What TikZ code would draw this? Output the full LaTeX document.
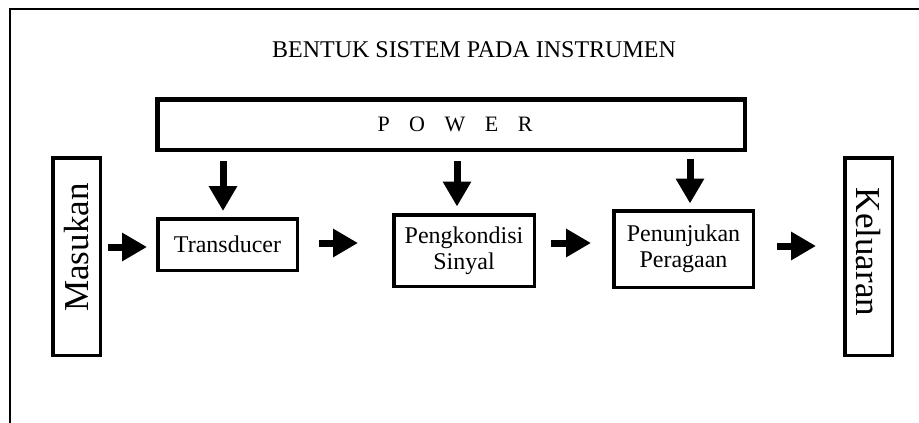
\documentclass[tikz,border=0pt]{standalone}
\usepackage{fontspec}
\setmainfont{Liberation Serif}
\usetikzlibrary{arrows.meta}
\tikzset{
  box/.style={draw, line width=3.5pt, inner sep=0pt, align=center,
    font=\fontsize{24}{26}\selectfont},
  sidebox/.style={draw, line width=3.5pt, inner sep=0pt,
    minimum width=47.5pt, minimum height=197.5pt},
  sidetext/.style={inner sep=0pt, font=\fontsize{35}{38}\selectfont},
  arr/.style={line width=7pt, -{Triangle[length=25pt,width=27pt]}},
}
\begin{document}
\begin{tikzpicture}[x=1pt,y=-1pt]
\useasboundingbox (0,0) rectangle (919,423);
\draw[line width=1.5pt] (10,423) -- (10,9) -- (919,9);
\node[inner sep=0pt, font=\fontsize{24}{26}\selectfont] (title) at (474,50) {BENTUK SISTEM PADA INSTRUMEN};
\node[draw, line width=4.5pt, inner sep=0pt, minimum width=587.5pt, minimum height=50.5pt] (pw) at (451,124.5) {};
\node[inner sep=0pt, font=\fontsize{22}{24}\selectfont] (pwt) at (455,124.5) {P\hspace{19.5pt}O\hspace{19.5pt}W\hspace{19.5pt}E\hspace{19.5pt}R};
\node[sidebox] (mas) at (76.5,256.5) {};
\node[sidetext, rotate=90] (mast) at (77,247.5) {Masukan};
\node[sidebox] (kel) at (868.5,256.5) {};
\node[sidetext, rotate=-90] (kelt) at (868,252) {Keluaran};
\node[box, minimum width=139.5pt, minimum height=51.5pt] (tr) at (227.5,244.5) {Transducer};
\node[box, minimum width=140.5pt, minimum height=71.5pt] (pk) at (464,250.5) {Pengkondisi\\Sinyal};
\node[box, minimum width=139.5pt, minimum height=76.5pt] (pn) at (683.5,249) {Penunjukan\\Peragaan};
% power arrows
\draw[arr, shorten <=9pt, shorten >=6pt] (pw.south -| 223,0) -- (tr.north -| 223,0);
\draw[arr, shorten <=9pt, shorten >=6.5pt] (pw.south -| 457,0) -- (pk.north -| 457,0);
\draw[arr, shorten <=7pt, shorten >=5.5pt] (pw.south -| 690,0) -- (pn.north -| 690,0);
% signal flow
\draw[arr, shorten <=6pt, shorten >=9pt] (mas.east |- 0,247) -- (tr.west |- 0,247);
\draw[arr, shorten <=20pt, shorten >=34pt] (tr.east |- 0,243) -- (pk.west |- 0,243);
\draw[arr, shorten <=15pt, shorten >=21pt] (pk.east |- 0,243) -- (pn.west |- 0,243);
\draw[arr, shorten <=22pt, shorten >=27pt] (pn.east |- 0,246) -- (kel.west |- 0,246);
\end{tikzpicture}
\end{document}
